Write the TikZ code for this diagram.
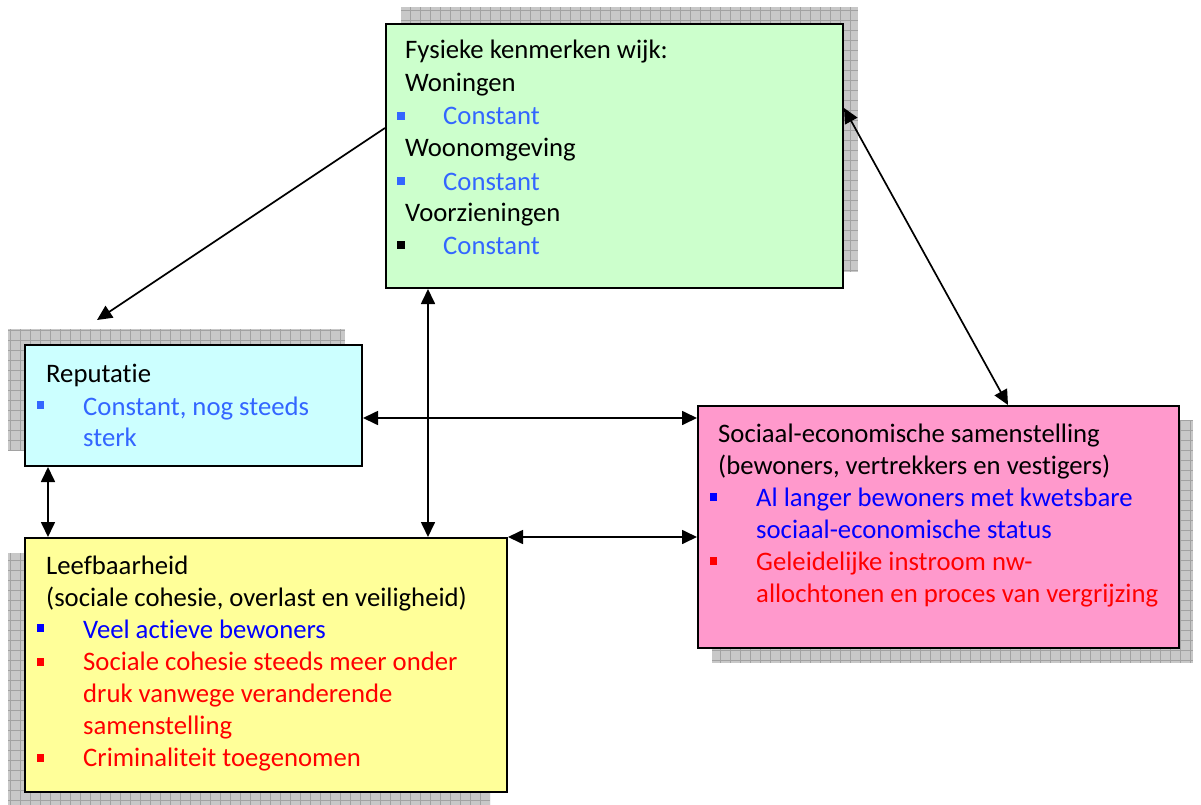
\documentclass[tikz,border=0pt]{standalone}
\usepackage{fontspec}
\setmainfont{Carlito}[Ligatures=NoCommon]
\usetikzlibrary{arrows.meta}
\definecolor{fysfill}{HTML}{CCFFCC}
\definecolor{repfill}{HTML}{CCFFFF}
\definecolor{socfill}{HTML}{FF99CC}
\definecolor{leeffill}{HTML}{FFFF99}
\definecolor{softblue}{HTML}{3366FF}
\definecolor{pureblue}{HTML}{0000FF}
\definecolor{purered}{HTML}{FF0000}
\definecolor{shadowfill}{HTML}{C8C8C8}
\definecolor{shadowline}{HTML}{A2A2A2}
% hatched drop shadow behind a box
\newcommand\gridshadow[2]{%
  \begin{scope}
    \clip #1 rectangle #2;
    \fill[shadowfill] #1 rectangle #2;
    \draw[shadowline,step=10pt,line width=0.7pt] #1 grid #2;
  \end{scope}}
\begin{document}
\begin{tikzpicture}[x=1pt,y=-1pt,
  box/.style={draw=black,line width=2pt,inner sep=0pt,anchor=north west},
  txt/.style={anchor=base west,inner sep=0pt,font=\fontsize{26.7}{32}\selectfont},
  link/.style={line width=1.7pt,{Triangle[length=15pt,width=14pt]}-{Triangle[length=15pt,width=14pt]}},
  onelink/.style={line width=1.7pt,-{Triangle[length=15pt,width=14pt]}}]
\useasboundingbox (0,0) rectangle (1201,805);

% shadows
\gridshadow{(401,7)}{(858,272)}
\gridshadow{(8,329)}{(345,450)}
\gridshadow{(712,420)}{(1193,663)}
\gridshadow{(8,553)}{(490,805)}

% boxes
\node[box,fill=fysfill,minimum width=457pt,minimum height=264pt] (fys) at (385,23) {};
\node[box,fill=repfill,minimum width=337pt,minimum height=121pt] (rep) at (24,344) {};
\node[box,fill=socfill,minimum width=481pt,minimum height=242pt] (soc) at (697,405) {};
\node[box,fill=leeffill,minimum width=482pt,minimum height=254pt] (leef) at (24,537) {};

% Fysieke kenmerken wijk
\node[txt] (f1) at (405,59) {Fysieke kenmerken wijk:};
\node[txt] (f2) at (405,92) {Woningen};
\node[txt,text=softblue] (f3) at (443,125) {Constant};
\node[txt] (f4) at (405,157) {Woonomgeving};
\node[txt,text=softblue] (f5) at (443,190) {Constant};
\node[txt] (f6) at (405,222) {Voorzieningen};
\node[txt,text=softblue] (f7) at (443,254) {Constant};
\fill[softblue] (397,112) rectangle (405,120);
\fill[softblue] (397,177) rectangle (405,185);
\fill[black] (397,241) rectangle (405,249);

% Reputatie
\node[txt] (r1) at (46,382) {Reputatie};
\node[txt,text=softblue] (r2) at (83,415) {Constant, nog steeds};
\node[txt,text=softblue] (r3) at (83,446) {sterk};
\fill[softblue] (37,401) rectangle (44,409);

% Sociaal-economische samenstelling
\node[txt] (s1) at (718,442) {Sociaal-economische samenstelling};
\node[txt] (s2) at (718,474) {(bewoners, vertrekkers en vestigers)};
\node[txt,text=pureblue] (s3) at (756,506) {Al langer bewoners met kwetsbare};
\node[txt,text=pureblue] (s4) at (756,538) {sociaal-economische status};
\node[txt,text=purered] (s5) at (756,570) {Geleidelijke instroom nw-};
\node[txt,text=purered] (s6) at (756,602) {allochtonen en proces van vergrijzing};
\fill[pureblue] (710,493) rectangle (717,501);
\fill[purered] (710,557) rectangle (717,565);

% Leefbaarheid
\node[txt] (l1) at (46,574) {Leefbaarheid};
\node[txt] (l2) at (46,606) {(sociale cohesie, overlast en veiligheid)};
\node[txt,text=pureblue] (l3) at (83,638) {Veel actieve bewoners};
\node[txt,text=purered] (l4) at (83,670) {Sociale cohesie steeds meer onder};
\node[txt,text=purered] (l5) at (83,702) {druk vanwege veranderende};
\node[txt,text=purered] (l6) at (83,734) {samenstelling};
\node[txt,text=purered] (l7) at (83,766) {Criminaliteit toegenomen};
\fill[pureblue] (37,624) rectangle (44,632);
\fill[purered] (37,658) rectangle (44,666);
\fill[purered] (37,754) rectangle (44,762);

% guide coordinates for the connectors
\coordinate (ya) at (0,128);
\coordinate (yb) at (0,108);
\coordinate (yc) at (0,418);
\coordinate (xa) at (428,0);
\coordinate (xb) at (48,0);
\coordinate (xc) at (1008,0);
\coordinate (repin) at (97,320);

% connectors
\draw[onelink] (fys.west |- ya) -- (repin);
\draw[link] (fys.east |- yb) -- (soc.north -| xc);
\draw[link] (fys.south -| xa) -- (leef.north -| xa);
\draw[link] (rep.east |- yc) -- (soc.west |- yc);
\draw[link] (rep.south -| xb) -- (leef.north -| xb);
\draw[link] (leef.north east) -- (soc.west |- leef.north east);
\end{tikzpicture}
\end{document}
